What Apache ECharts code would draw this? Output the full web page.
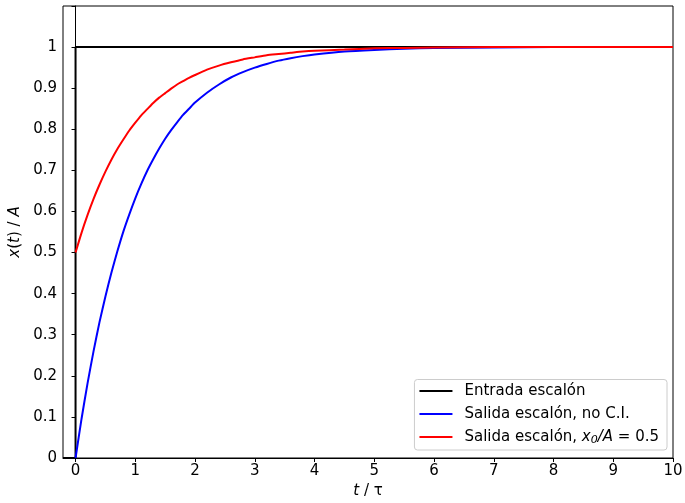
<!DOCTYPE html>
<html><head><meta charset="utf-8">
<script src="https://cdn.jsdelivr.net/npm/echarts@6/dist/echarts.min.js"></script>
<style>html,body{margin:0;padding:0;background:#fff}#c{width:685px;height:503px}</style>
</head><body><div id="c"></div>
<script>
// Step input
var stepT = [-0.21, 0, 0, 10];
var stepX = [0, 0, 1, 1];
// Time samples (t / tau) for output curves
var tVals = [0, 0.1, 0.2, 0.3, 0.4, 0.5, 0.6, 0.7, 0.8, 0.9, 1.0, 1.1, 1.2, 1.3, 1.4, 1.5, 1.6, 1.7, 1.8, 1.9, 2.0, 2.2, 2.4, 2.6, 2.8, 3.0, 3.2, 3.4, 3.6, 3.8, 4.0, 4.5, 5.0, 5.5, 6.0, 7.0, 8.0, 9.0, 10.0];
// Output, no initial condition
var blueVals = [0, 0.095, 0.181, 0.259, 0.330, 0.393, 0.451, 0.503, 0.551, 0.593, 0.632, 0.667, 0.699, 0.727, 0.753, 0.777, 0.798, 0.817, 0.835, 0.850, 0.865, 0.889, 0.909, 0.926, 0.939, 0.950, 0.959, 0.967, 0.973, 0.978, 0.982, 0.989, 0.993, 0.996, 0.998, 0.999, 1.0, 1.0, 1.0];
// Output, x0/A = 0.5
var redVals = [0.5, 0.548, 0.591, 0.630, 0.665, 0.697, 0.726, 0.752, 0.775, 0.797, 0.816, 0.834, 0.849, 0.864, 0.877, 0.888, 0.899, 0.909, 0.917, 0.925, 0.932, 0.945, 0.955, 0.963, 0.970, 0.975, 0.980, 0.983, 0.986, 0.989, 0.991, 0.994, 0.997, 0.998, 0.999, 1.0, 1.0, 1.0, 1.0];
var xTicks = [0, 1, 2, 3, 4, 5, 6, 7, 8, 9, 10];
var seriesNames = ['Entrada escalón', 'Salida escalón, no C.I.', 'Salida escalón, x0/A = 0.5'];

function zip(a, b) { return a.map(function (v, i) { return [v, b[i]]; }); }
var FONT = 'DejaVu Sans';
var FS = 15;
var chart = echarts.init(document.getElementById('c'), null, {renderer: 'canvas'});
chart.setOption({
  animation: false,
  backgroundColor: '#fff',
  grid: {left: 63, right: 12, top: 6, bottom: 45, show: true, borderColor: '#000', borderWidth: 1, backgroundColor: 'transparent', outerBoundsMode: 'none', containLabel: false},
  legend: {
    orient: 'vertical', right: 18, bottom: 53,
    backgroundColor: '#fff', borderColor: '#cccccc', borderWidth: 1, borderRadius: 3,
    padding: [4, 8, 4, 5], itemGap: 8, itemWidth: 33, itemHeight: 2, icon: 'rect',
    textStyle: {fontFamily: FONT, fontSize: FS, color: '#000', padding: [0, 0, 0, 7],
      rich: {i: {fontFamily: FONT, fontStyle: 'italic', fontSize: FS, color: '#000'},
             sub: {fontFamily: FONT, fontStyle: 'italic', fontSize: 11, color: '#000', verticalAlign: 'bottom', padding: [7, 0, 0, 0]}}},
    formatter: function (n) {
      if (n === seriesNames[2]) return 'Salida escalón, {i|x}{sub|0}{i|/A} = 0.5';
      return n;
    },
    data: seriesNames
  },
  xAxis: {
    type: 'value', min: -0.21, max: 10,
    name: '{i|t} / τ', nameLocation: 'middle', nameGap: 26,
    nameTextStyle: {fontFamily: FONT, fontSize: FS, color: '#000', rich: {i: {fontFamily: FONT, fontStyle: 'italic', fontSize: FS}}},
    axisLine: {show: true, onZero: false, lineStyle: {color: '#000', width: 1}},
    axisTick: {show: true, inside: false, length: 4, lineStyle: {color: '#000'}, customValues: xTicks},
    axisLabel: {fontFamily: FONT, fontSize: FS, color: '#000', margin: 6, customValues: xTicks},
    splitLine: {show: false}
  },
  yAxis: {
    type: 'value', min: 0, max: 1.1, interval: 0.1,
    name: '{i|x}({i|t}) / {i|A}', nameLocation: 'middle', nameGap: 38,
    nameTextStyle: {fontFamily: FONT, fontSize: FS, color: '#000', rich: {i: {fontFamily: FONT, fontStyle: 'italic', fontSize: FS}}},
    axisLine: {show: true, lineStyle: {color: '#000', width: 1}},
    axisTick: {show: true, inside: false, length: 4, lineStyle: {color: '#000'}},
    axisLabel: {fontFamily: FONT, fontSize: FS, color: '#000', margin: 6,
      formatter: function (v) { if (v > 1.05) return ''; return String(Math.round(v * 10) / 10); }},
    splitLine: {show: false}
  },
  series: [
    {name: seriesNames[0], type: 'line', data: zip(stepT, stepX), showSymbol: false, symbol: 'none',
     lineStyle: {color: '#000', width: 2}, itemStyle: {color: '#000'}, z: 3},
    {name: seriesNames[1], type: 'line', data: zip(tVals, blueVals), showSymbol: false, symbol: 'none', smooth: 0.2,
     lineStyle: {color: '#0000ff', width: 2}, itemStyle: {color: '#0000ff'}, z: 4},
    {name: seriesNames[2], type: 'line', data: zip(tVals, redVals), showSymbol: false, symbol: 'none', smooth: 0.2,
     lineStyle: {color: '#ff0000', width: 2}, itemStyle: {color: '#ff0000'}, z: 5}
  ]
});
</script></body></html>
